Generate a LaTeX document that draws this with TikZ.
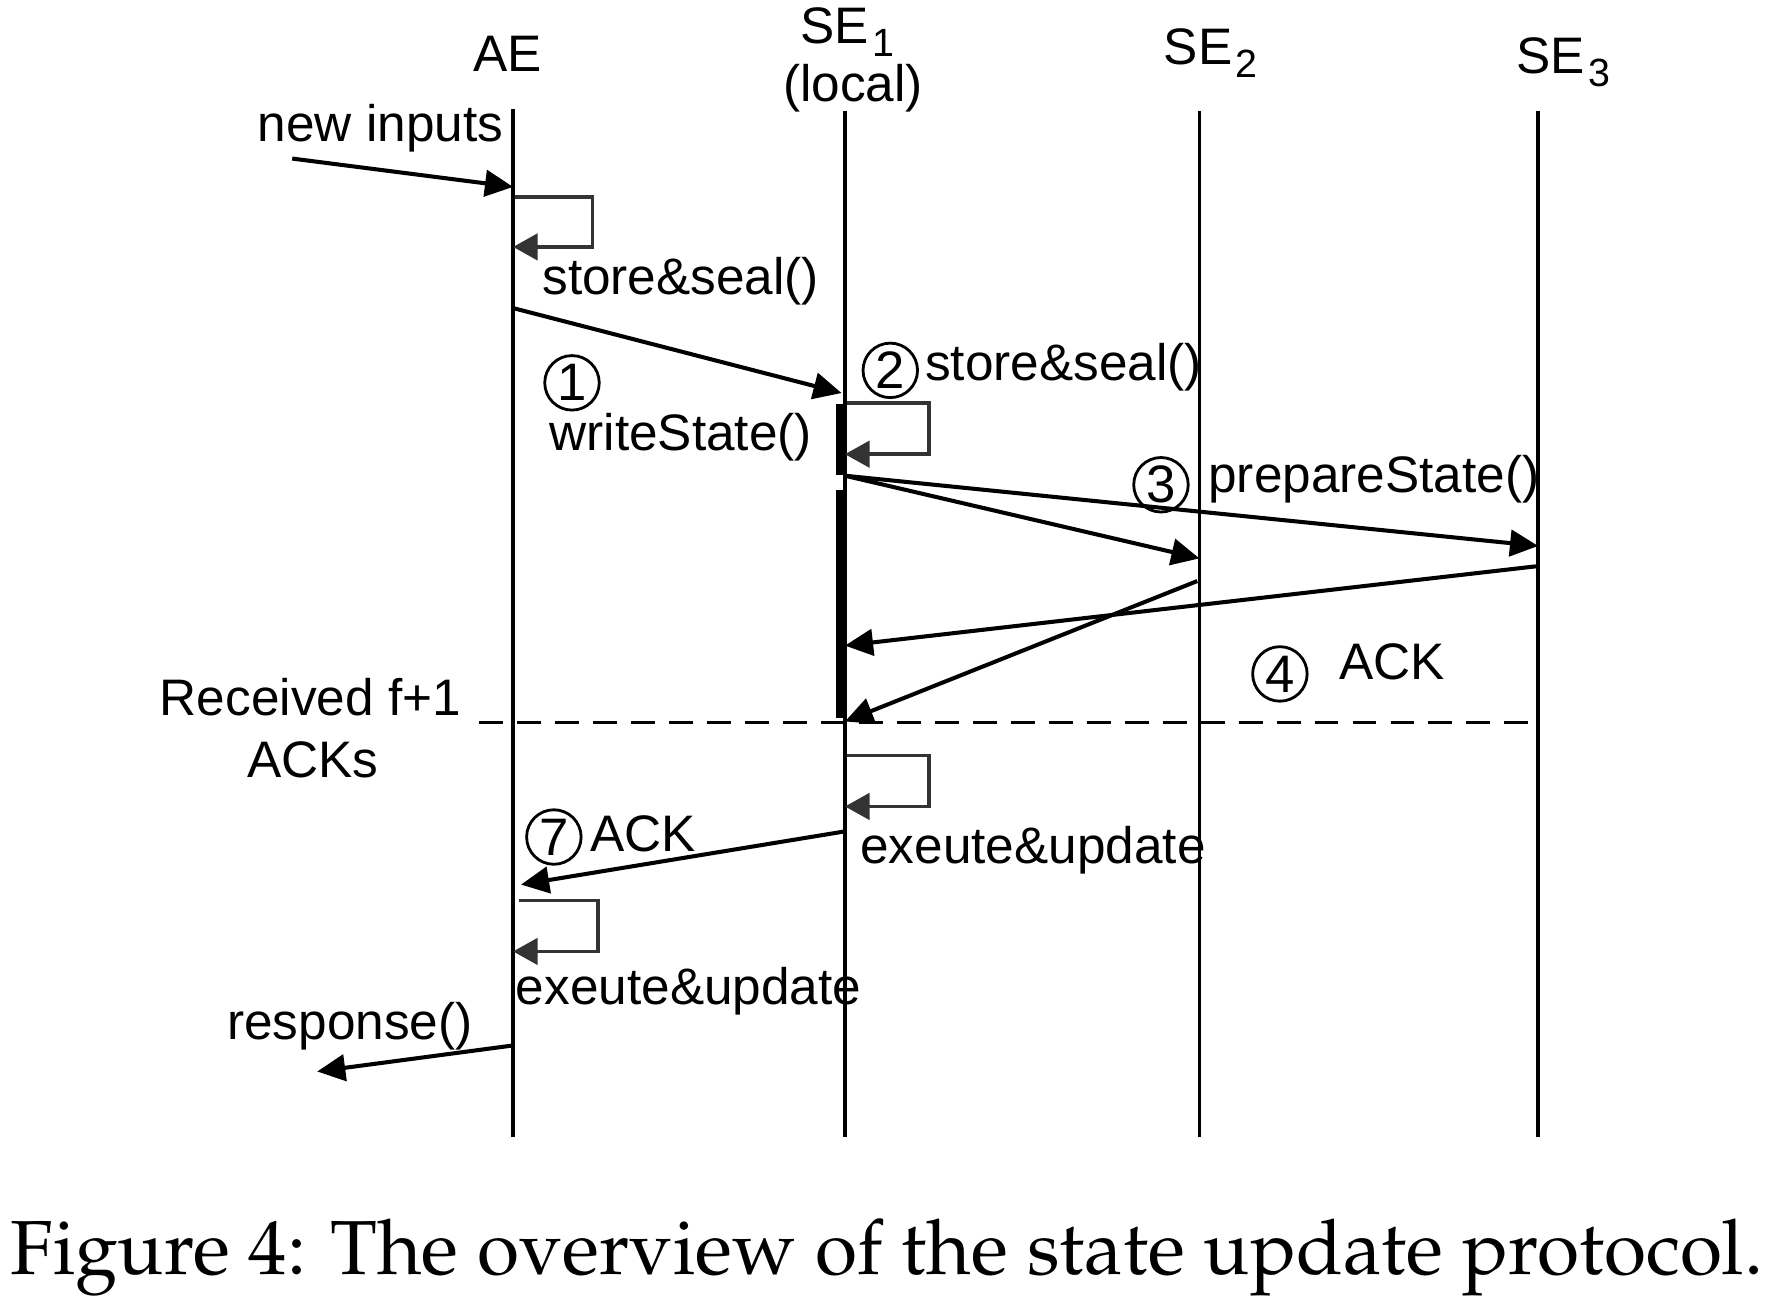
\documentclass[tikz,border=0pt]{standalone}
\usepackage[T1]{fontenc}
\usepackage{fontspec}
\setmainfont{Liberation Sans}
\usetikzlibrary{arrows.meta,positioning}

\newcommand\lsub[1]{\hspace{1pt}\raisebox{-3.8pt}{\fontsize{11.2}{12}\selectfont #1}}
\newcommand\capfont{\fontencoding{T1}\fontfamily{ppl}\fontsize{21.8}{24}\selectfont}

\tikzset{
  lifeline/.style={line width=1pt},
  msg/.style={line width=1.15pt,-{Triangle[length=8pt,width=7.5pt]}},
  selfloop/.style={line width=1.05pt,draw=black!80,-{Triangle[length=7pt,width=7.5pt,fill=black!80]}},
  actbar/.style={line width=2pt},
  lbl/.style={inner sep=0pt,anchor=base,font=\fontsize{14.6}{16}\selectfont},
  num/.style={circle,draw,line width=0.8pt,minimum size=15.5pt,inner sep=0pt,font=\fontsize{15}{16}\selectfont}
}

\begin{document}
\begin{tikzpicture}[x=0.011327cm,y=-0.011327cm]
    \useasboundingbox (0,0) rectangle (1568,1146);
    \def\xAE{453}
    \def\xSEi{746}
    \def\xSEii{1059}
    \def\xSEiii{1358}

    % lifeline heads
    \node[lbl] (hAE) at (448,63) {AE};
    \node[lbl,anchor=base west] (hSEi) at (706,38) {SE\lsub{1}};
    \node[lbl] (hSEiloc) at (753,90) {(local)};
    \node[lbl,anchor=base west] (hSEii) at (1027,57) {SE\lsub{2}};
    \node[lbl,anchor=base west] (hSEiii) at (1338,65) {SE\lsub{3}};

    % lifelines
    \coordinate (tAE) at (\xAE,96);      \coordinate (bAE) at (\xAE,1004);
    \coordinate (tSEi) at (\xSEi,98);    \coordinate (bSEi) at (\xSEi,1004);
    \coordinate (tSEii) at (\xSEii,98);  \coordinate (bSEii) at (\xSEii,1004);
    \coordinate (tSEiii) at (\xSEiii,98); \coordinate (bSEiii) at (\xSEiii,1004);
    \draw[lifeline] (tAE) -- (bAE);
    \draw[lifeline] (tSEi) -- (bSEi);
    \draw[lifeline] (tSEii) -- (bSEii);
    \draw[lifeline] (tSEiii) -- (bSEiii);

    % activation bars on SE1
    \draw[actbar] (741,357) -- (741,419);
    \draw[actbar] (741,433) -- (741,634);

    % new inputs
    \node[lbl] (lnew) at (336,125) {new inputs};
    \coordinate (inA) at (258,140);
    \coordinate (inB) at (\xAE,165);
    \draw[msg] (inA) -- (inB);

    % store&seal() at AE
    \draw[selfloop] (\xAE+2,174) -- (523,174) -- (523,218) -- (\xAE,218);
    \node[lbl] (lsealA) at (601,260) {store\&seal()};

    % writeState()
    \coordinate (wsA) at (\xAE,272);
    \coordinate (wsB) at (743,347);
    \draw[msg] (wsA) -- (wsB);
    \node[num] (n1) at (505,338) {1};
    \node[lbl] (lws) at (601,398) {writeState()};

    % store&seal() at SE1
    \node[num] (n2) at (786,327) {2};
    \node[lbl] (lsealB) at (939,336) {store\&seal()};
    \draw[selfloop] (\xSEi+2,356) -- (820,356) -- (820,401) -- (\xSEi,401);

    % prepareState()
    \coordinate (psA) at (\xSEi,420);
    \coordinate (psB) at (\xSEii,493);
    \coordinate (psC) at (\xSEiii,482);
    \draw[msg] (psA) -- (psB);
    \draw[msg] (psA) -- (psC);
    \node[num] (n3) at (1025,428) {3};
    \node[lbl] (lps) at (1213,435) {prepareState()};

    % ACKs back to SE1
    \coordinate (akC) at (\xSEiii-2,500);
    \coordinate (akCe) at (\xSEi,570);
    \coordinate (akB) at (\xSEii-2,513);
    \coordinate (akBe) at (\xSEi,637);
    \draw[msg] (akC) -- (akCe);
    \draw[msg] (akB) -- (akBe);
    \node[num] (n4) at (1130,595) {4};
    \node[lbl] (lackB) at (1229,600) {ACK};

    % quorum line
    \coordinate (qA) at (423,638);
    \coordinate (qB) at (1355,638);
    \draw[line width=1pt,dash pattern=on 6.8pt off 4pt] (qA) -- (qB);
    \node[lbl] (lrcv) at (274,632) {Received f+1};
    \node[lbl] (lrcvb) at (276,686) {ACKs};

    % exeute&update at SE1
    \draw[selfloop] (\xSEi+2,667) -- (820,667) -- (820,712) -- (\xSEi,712);
    \node[lbl] (lexB) at (912,762) {exeute\&update};

    % ACK to AE
    \coordinate (akA) at (\xSEi,734);
    \coordinate (akAe) at (460,781);
    \draw[msg] (akA) -- (akAe);
    \node[num] (n7) at (489,739) {7};
    \node[lbl] (lackA) at (568,752) {ACK};

    % exeute&update at AE
    \draw[selfloop] (\xAE+5,795) -- (528,795) -- (528,840) -- (\xAE,840);
    \node[lbl] (lexA) at (608,887) {exeute\&update};

    % response()
    \node[lbl] (lresp) at (309,918) {response()};
    \coordinate (rsA) at (\xAE,923);
    \coordinate (rsB) at (280,946);
    \draw[msg] (rsA) -- (rsB);

    % caption
    \node[inner sep=0pt,anchor=base] (cap) at (783,1125) {\capfont Figure 4: The overview of the state update protocol.};
\end{tikzpicture}
\end{document}
